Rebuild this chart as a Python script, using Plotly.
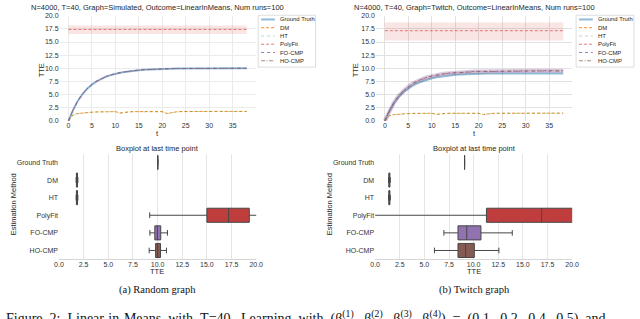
import plotly.graph_objects as go

W, H = 640, 319
SANS = "Liberation Sans, Arial, sans-serif"
SERIF = "Liberation Serif, Times New Roman, serif"


def px(x):
    return x / W


def py(y):
    return 1 - y / H


# ---------------- data ----------------
t = list(range(39))

title_rand = "N=4000, T=40, Graph=Simulated, Outcome=LinearInMeans, Num runs=100"
title_twitch = "N=4000, T=40, Graph=Twitch, Outcome=LinearInMeans, Num runs=100"

gt_rand = [0.0, 2.1, 3.8, 5.1, 6.1, 6.9, 7.5, 8.0, 8.4, 8.7,
           8.95, 9.15, 9.3, 9.45, 9.55, 9.65, 9.72, 9.78, 9.83, 9.87,
           9.9, 9.92, 9.94, 9.96, 9.97, 9.98, 9.98, 9.99, 9.99, 9.99,
           10.0, 10.0, 10.0, 10.0, 10.0, 10.0, 10.0, 10.0, 10.0]
fo_rand = [0.0, 2.15, 3.85, 5.15, 6.15, 6.95, 7.55, 8.05, 8.45, 8.75,
           9.0, 9.18, 9.33, 9.47, 9.57, 9.66, 9.73, 9.79, 9.84, 9.88,
           9.91, 9.93, 9.95, 9.96, 9.97, 9.98, 9.99, 9.99, 10.0, 10.0,
           10.0, 10.01, 10.01, 10.01, 10.01, 10.01, 10.01, 10.01, 10.01]
ho_rand = [0.0, 2.12, 3.82, 5.12, 6.12, 6.92, 7.52, 8.02, 8.42, 8.72,
           8.97, 9.16, 9.31, 9.46, 9.56, 9.66, 9.73, 9.79, 9.84, 9.88,
           9.91, 9.93, 9.95, 9.96, 9.97, 9.98, 9.98, 9.99, 9.99, 10.0,
           10.0, 10.0, 10.0, 10.0, 10.0, 10.0, 10.0, 10.0, 10.0]
dm_rand = [0.0, 1.15, 1.4, 1.52, 1.6, 1.66, 1.7, 1.73, 1.75, 1.77,
           1.76, 1.5, 1.65, 1.72, 1.76, 1.78, 1.78, 1.79, 1.79, 1.8,
           1.76, 1.4, 1.6, 1.72, 1.77, 1.79, 1.8, 1.8, 1.8, 1.81,
           1.8, 1.8, 1.81, 1.8, 1.8, 1.81, 1.8, 1.8, 1.8]
ht_rand = [0.0, 1.12, 1.38, 1.5, 1.58, 1.65, 1.69, 1.72, 1.74, 1.76,
           1.75, 1.48, 1.63, 1.71, 1.75, 1.77, 1.77, 1.78, 1.79, 1.79,
           1.75, 1.38, 1.58, 1.71, 1.76, 1.78, 1.79, 1.79, 1.8, 1.8,
           1.79, 1.8, 1.8, 1.8, 1.79, 1.8, 1.8, 1.8, 1.79]
pf_t = [0, 38]
pf_rand_mean = [17.4, 17.4]
pf_rand_low = [16.55, 16.55]
pf_rand_high = [18.15, 18.15]

gt_twitch = [0.0, 1.9, 3.4, 4.6, 5.5, 6.2, 6.75, 7.2, 7.55, 7.85,
             8.1, 8.3, 8.45, 8.58, 8.68, 8.76, 8.82, 8.87, 8.91, 8.94,
             8.96, 8.98, 8.99, 9.0, 9.0, 9.01, 9.01, 9.01, 9.02, 9.02,
             9.02, 9.02, 9.02, 9.02, 9.02, 9.02, 9.02, 9.02, 9.02]
fo_twitch = [0.0, 2.0, 3.6, 4.85, 5.8, 6.55, 7.15, 7.63, 8.0, 8.3,
             8.55, 8.74, 8.9, 9.02, 9.12, 9.2, 9.26, 9.31, 9.35, 9.38,
             9.41, 9.43, 9.45, 9.47, 9.48, 9.49, 9.5, 9.51, 9.52, 9.52,
             9.53, 9.53, 9.54, 9.54, 9.54, 9.55, 9.55, 9.55, 9.55]
ho_twitch = [0.0, 1.97, 3.55, 4.8, 5.75, 6.5, 7.1, 7.58, 7.95, 8.25,
             8.5, 8.69, 8.85, 8.97, 9.07, 9.15, 9.21, 9.26, 9.3, 9.33,
             9.36, 9.38, 9.4, 9.42, 9.43, 9.44, 9.45, 9.46, 9.46, 9.47,
             9.47, 9.48, 9.48, 9.48, 9.49, 9.49, 9.49, 9.49, 9.49]
dm_twitch = [0.0, 1.0, 1.2, 1.3, 1.35, 1.39, 1.42, 1.44, 1.45, 1.46,
             1.45, 1.25, 1.38, 1.42, 1.45, 1.46, 1.46, 1.47, 1.47, 1.47,
             1.44, 1.22, 1.38, 1.43, 1.45, 1.46, 1.47, 1.47, 1.47, 1.47,
             1.46, 1.47, 1.47, 1.47, 1.47, 1.46, 1.47, 1.47, 1.47]
ht_twitch = [0.0, 0.98, 1.18, 1.29, 1.34, 1.38, 1.41, 1.43, 1.44, 1.45,
             1.44, 1.23, 1.37, 1.41, 1.44, 1.45, 1.45, 1.46, 1.46, 1.46,
             1.43, 1.2, 1.37, 1.42, 1.44, 1.45, 1.46, 1.46, 1.46, 1.46,
             1.45, 1.46, 1.46, 1.46, 1.46, 1.45, 1.46, 1.46, 1.46]
pf_twitch_mean = [17.15, 17.15]
pf_twitch_low = [15.3, 15.3]
pf_twitch_high = [18.7, 18.7]

methods = ["Ground Truth", "DM", "HT", "PolyFit", "FO-CMP", "HO-CMP"]
box_rand_lo = [10.02, 1.74, 1.74, 9.2, 9.22, 9.15]
box_rand_q1 = [10.02, 1.77, 1.77, 15.0, 9.72, 9.8]
box_rand_med = [10.02, 1.82, 1.82, 17.2, 9.98, 10.0]
box_rand_q3 = [10.02, 1.88, 1.88, 19.3, 10.32, 10.3]
box_rand_hi = [10.02, 1.92, 1.92, 21.5, 11.0, 10.9]

box_tw_lo = [9.08, 1.36, 1.36, -3.0, 6.98, 6.02]
box_tw_q1 = [9.08, 1.39, 1.39, 11.3, 8.41, 8.41]
box_tw_med = [9.08, 1.44, 1.44, 16.9, 9.3, 9.18]
box_tw_q3 = [9.08, 1.5, 1.5, 22.0, 10.74, 10.07]
box_tw_hi = [9.08, 1.54, 1.54, 30.0, 13.92, 12.56]

caption_words = ["Figure", "2:", "Linear-in-Means", "with", "T=40.", "Learning", "with",
                 "(β<sup>(1)</sup>,", "β<sup>(2)</sup>,", "β<sup>(3)</sup>,", "β<sup>(4)</sup>)",
                 "=", "(0.1,", "0.2,", "0.4,", "0.5)", "and"]

# ---------------- styles ----------------
line_styles = {
    "Ground Truth": dict(color="rgba(31,119,180,0.5)", dash="solid", width=2.0),
    "DM": dict(color="rgba(255,127,14,0.9)", dash="3px,2px", width=1),
    "HT": dict(color="rgba(44,160,44,0.35)", dash="dot", width=1),
    "PolyFit": dict(color="rgba(214,39,40,0.6)", dash="3px,2px", width=1),
    "FO-CMP": dict(color="rgba(148,103,189,0.9)", dash="dot", width=1),
    "HO-CMP": dict(color="rgba(140,86,75,0.7)", dash="4px,1.5px,1px,1.5px", width=1),
}
box_colors = {
    "Ground Truth": "#3274a1", "DM": "#e1812c", "HT": "#3a923a",
    "PolyFit": "#c03d3e", "FO-CMP": "#9372b2", "HO-CMP": "#845b53",
}

fig = go.Figure()


def add_lines(xa, ya, gt, dm, ht, pfm, pfl, pfh, fo, ho, cmp_band):
    fig.add_trace(go.Scatter(
        x=pf_t + pf_t[::-1], y=pfh + pfl[::-1], fill="toself",
        fillcolor="rgba(214,39,40,0.12)", line=dict(width=0),
        mode="lines", xaxis=xa, yaxis=ya, hoverinfo="skip"))
    fig.add_trace(go.Scatter(x=t, y=gt, mode="lines", line=line_styles["Ground Truth"],
                             xaxis=xa, yaxis=ya))
    if cmp_band:
        fig.add_trace(go.Scatter(x=t, y=fo, mode="lines",
                                 line=dict(color="rgba(148,103,189,0.22)", width=4),
                                 xaxis=xa, yaxis=ya))
        fig.add_trace(go.Scatter(x=t, y=ho, mode="lines",
                                 line=dict(color="rgba(140,86,75,0.15)", width=4),
                                 xaxis=xa, yaxis=ya))
    fig.add_trace(go.Scatter(x=t, y=dm, mode="lines", line=line_styles["DM"], xaxis=xa, yaxis=ya))
    fig.add_trace(go.Scatter(x=t, y=ht, mode="lines", line=line_styles["HT"], xaxis=xa, yaxis=ya))
    fig.add_trace(go.Scatter(x=pf_t, y=pfm, mode="lines", line=line_styles["PolyFit"], xaxis=xa, yaxis=ya))
    fig.add_trace(go.Scatter(x=t, y=fo, mode="lines", line=line_styles["FO-CMP"], xaxis=xa, yaxis=ya))
    fig.add_trace(go.Scatter(x=t, y=ho, mode="lines", line=line_styles["HO-CMP"], xaxis=xa, yaxis=ya))


add_lines("x", "y", gt_rand, dm_rand, ht_rand, pf_rand_mean, pf_rand_low, pf_rand_high,
          fo_rand, ho_rand, False)
add_lines("x2", "y2", gt_twitch, dm_twitch, ht_twitch, pf_twitch_mean, pf_twitch_low,
          pf_twitch_high, fo_twitch, ho_twitch, True)


def add_boxes(xa, ya, lo, q1, med, q3, hi):
    for i, m in enumerate(methods):
        fig.add_trace(go.Box(
            y=[m], q1=[q1[i]], median=[med[i]], q3=[q3[i]],
            lowerfence=[lo[i]], upperfence=[hi[i]], orientation="h",
            fillcolor=box_colors[m], line=dict(color="#474747", width=1),
            width=0.8, whiskerwidth=0.4, boxpoints=False,
            xaxis=xa, yaxis=ya, hoverinfo="skip"))


add_boxes("x3", "y3", box_rand_lo, box_rand_q1, box_rand_med, box_rand_q3, box_rand_hi)
add_boxes("x4", "y4", box_tw_lo, box_tw_q1, box_tw_med, box_tw_q3, box_tw_hi)

# ---------------- axes ----------------
TICKFONT = dict(size=7, color="#333333", family=SANS)


def top_x(l, r, grid):
    return dict(domain=[px(l), px(r)], range=[-1.9, 39.9], tickvals=[0, 5, 10, 15, 20, 25, 30, 35],
                showgrid=True, gridcolor=grid, gridwidth=1, zeroline=False, showline=False,
                ticks="", ticklen=0, ticklabelstandoff=-1, tickfont=TICKFONT)


def top_y(anchor, grid):
    return dict(domain=[py(119.5), py(12)], range=[0, 20], dtick=2.5, tick0=0, tickformat=".1f",
                showgrid=True, gridcolor=grid, gridwidth=1, zeroline=False, showline=False,
                ticks="", ticklen=0, tickfont=TICKFONT, anchor=anchor)


def bot_x(l, r):
    return dict(domain=[px(l), px(r)], range=[0, 20], dtick=2.5, tick0=0, tickformat=".1f",
                showgrid=True, gridcolor="#e6e6e6", gridwidth=1, zeroline=False,
                showline=True, linecolor="#d6d6d6", linewidth=1,
                ticks="", ticklen=0, ticklabelstandoff=-2, tickfont=TICKFONT)


def bot_y(anchor):
    return dict(domain=[py(261), py(153)], type="category", categoryorder="array",
                categoryarray=methods, range=[5.5, -0.5], showgrid=False, zeroline=False,
                showline=False, ticks="", ticklen=0, tickfont=TICKFONT, anchor=anchor)


fig.update_layout(
    width=W, height=H, margin=dict(l=0, r=0, t=0, b=0),
    paper_bgcolor="white", plot_bgcolor="white", showlegend=False,
    font=dict(family=SANS, size=7, color="#262626"),
    xaxis=dict(top_x(55.6, 255.4, "#ebebeb"), anchor="y"),
    yaxis=top_y("x", "#ebebeb"),
    xaxis2=dict(top_x(378, 578, "#e2e2e2"), anchor="y2"),
    yaxis2=top_y("x2", "#e2e2e2"),
    xaxis3=dict(bot_x(55, 256), anchor="y3"),
    yaxis3=bot_y("x3"),
    xaxis4=dict(bot_x(377.2, 578), anchor="y4"),
    yaxis4=bot_y("x4"),
)

# ---------------- text & legends ----------------
ann = []
shapes = []


def text(x, y, s, size=7, color="#262626", family=SANS, xanchor="center", yanchor="middle", angle=0):
    ann.append(dict(x=px(x), y=py(y), xref="paper", yref="paper", text=s, showarrow=False,
                    font=dict(size=size, color=color, family=family), xanchor=xanchor,
                    yanchor=yanchor, textangle=angle, borderpad=0))


text(155, 3.5, title_rand, 7.5)
text(478, 3.5, title_twitch, 7.5)
text(37, 67.5, "TTE", 7.5, angle=-90)
text(357, 67.5, "TTE", 7.5, angle=-90)
text(155, 132.5, "t", 7.5)
text(478, 132.5, "t", 7.5)
text(155, 148, "Boxplot at last time point", 7.5)
text(478, 148, "Boxplot at last time point", 7.5)
text(9, 205, "Estimation Method", 7.5, angle=-90)
text(331, 205, "Estimation Method", 7.5, angle=-90)
text(155, 273, "TTE", 7.5)
text(478, 273, "TTE", 7.5)
text(155, 292, "(a) Random graph", 10.5, color="#111111", family=SERIF)
text(478, 292, "(b) Twitch graph", 10.5, color="#111111", family=SERIF)
# justified caption line (extra word spacing like the typeset original)
text(0, 321, " &nbsp;".join(caption_words), 14, color="#111111", family=SERIF,
     xanchor="left", yanchor="middle")


def legend(bx, right):
    shapes.append(dict(type="rect", xref="paper", yref="paper", x0=px(bx), x1=px(right),
                       y0=py(64.5), y1=py(11.5), line=dict(color="#d4d4d4", width=0.8),
                       fillcolor="rgba(255,255,255,0.9)", layer="above"))
    for i, m in enumerate(methods):
        yy = 15.8 + 8.45 * i
        st = line_styles[m]
        shapes.append(dict(type="line", xref="paper", yref="paper", x0=px(bx + 3), x1=px(bx + 17),
                           y0=py(yy), y1=py(yy),
                           line=dict(color=st["color"], dash=st["dash"], width=st["width"]),
                           layer="above"))
        text(bx + 21, yy, m, 5.9, xanchor="left")


legend(258, 316.5)
legend(582, 641)

fig.update_layout(annotations=ann, shapes=shapes)
fig.write_html("out.html", config={"displayModeBar": False},
               post_script="document.body.style.margin='0';document.body.style.overflow='hidden';")
